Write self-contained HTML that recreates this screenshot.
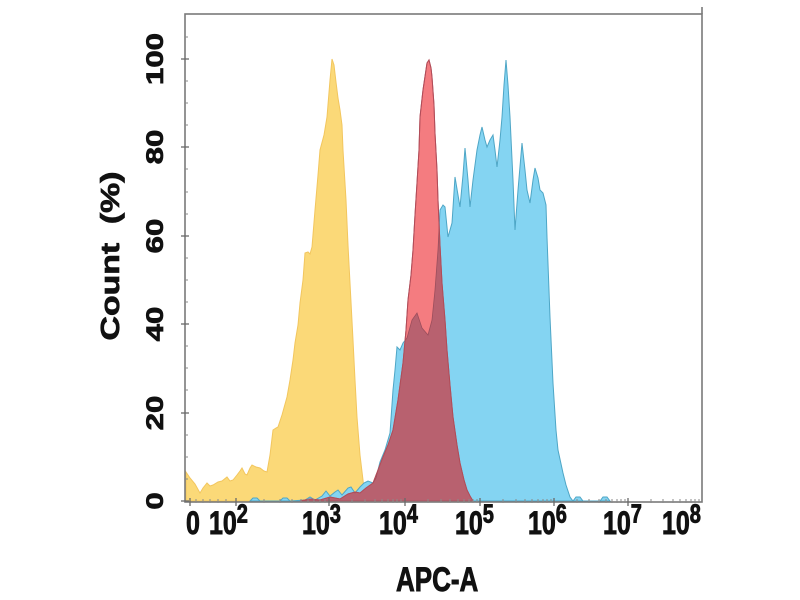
<!DOCTYPE html>
<html><head><meta charset="utf-8"><style>
html,body{margin:0;padding:0;background:#fff;width:800px;height:600px;overflow:hidden}
svg{display:block}
text{font-family:"Liberation Sans",Arial,sans-serif;font-weight:bold;fill:#111;stroke:#111;stroke-width:0.7}
</style></head><body>
<svg width="800" height="600" viewBox="0 0 800 600" xmlns="http://www.w3.org/2000/svg">
<defs>
<clipPath id="redclip"><path d="M300,501 L310,499 L320,500 L330,497 L340,499 L348,494 L355,492 L360,493 L366,488 L373,483 L378,470 L383,457 L388,445 L393,430 L398,400 L403,363 L406,330 L408,300 L411,275 L413,250 L415,215 L417,183 L419,150 L420,117 L423,90 L427,63 L429,60 L431,68 L432,77 L434,105 L435,133 L437,170 L438,200 L440,245 L442,283 L445,320 L447,350 L450,385 L453,417 L457,445 L460,463 L464,480 L467,490 L470,496 L473,501 Z"/></clipPath>
</defs>
<!-- yellow -->
<path d="M186,501 L186,472 L190,478 L195,484 L200,493 L203,488 L207,483 L210,486 L213,485 L218,482 L222,481 L227,477 L230,481 L233,480 L237,475 L240,471 L242,468 L245,474 L247,475 L250,468 L252,465 L256,467 L260,468 L264,471 L267,472 L270,455 L273,430 L276,428 L278,427 L282,415 L287,397 L290,380 L293,360 L295,343 L298,325 L300,303 L303,280 L305,253 L308,252 L310,254 L312,247 L315,210 L318,175 L320,150 L324,135 L327,117 L330,80 L332,59 L334,65 L336,82 L338,98 L340,110 L342,125 L343,150 L346,200 L348,245 L350,283 L353,340 L355,380 L357,417 L360,455 L363,480 L365,501 Z" fill="#fbd978" stroke="#f2c65e" stroke-width="1"/>
<!-- blue -->
<path d="M250,501 L253,498 L257,498 L260,501 L280,501 L283,498 L287,498 L290,501 L305,500 L310,497 L315,500 L322,496 L326,491 L330,496 L335,492 L338,490 L342,495 L348,488 L351,487 L355,493 L360,487 L364,483 L368,481 L373,483 L376,478 L380,462 L385,450 L390,433 L393,390 L395,370 L397,347 L400,350 L403,343 L407,338 L412,320 L417,313 L422,328 L428,335 L432,320 L435,290 L438,250 L440,210 L443,205 L445,207 L448,237 L452,223 L455,177 L458,195 L460,207 L463,175 L465,148 L468,180 L470,207 L473,180 L477,150 L480,135 L482,127 L485,140 L487,147 L490,140 L493,135 L495,150 L497,167 L500,140 L502,117 L504,85 L506,60 L508,85 L510,117 L513,180 L515,230 L518,190 L522,143 L525,170 L527,190 L530,203 L533,180 L535,168 L538,178 L540,190 L543,193 L546,205 L547,237 L550,317 L553,383 L556,430 L558,450 L563,473 L566,485 L570,497 L573,501 L576,497 L580,497 L583,501 L600,501 L603,497 L607,497 L610,501 Z" fill="#84d4f2" stroke="#4ea6c6" stroke-width="1"/>
<!-- red -->
<path d="M300,501 L310,499 L320,500 L330,497 L340,499 L348,494 L355,492 L360,493 L366,488 L373,483 L378,470 L383,457 L388,445 L393,430 L398,400 L403,363 L406,330 L408,300 L411,275 L413,250 L415,215 L417,183 L419,150 L420,117 L423,90 L427,63 L429,60 L431,68 L432,77 L434,105 L435,133 L437,170 L438,200 L440,245 L442,283 L445,320 L447,350 L450,385 L453,417 L457,445 L460,463 L464,480 L467,490 L470,496 L473,501 Z" fill="#f47c80" stroke="#c85a64" stroke-width="1"/>
<!-- overlap -->
<g clip-path="url(#redclip)">
<path d="M250,501 L253,498 L257,498 L260,501 L280,501 L283,498 L287,498 L290,501 L305,500 L310,497 L315,500 L322,496 L326,491 L330,496 L335,492 L338,490 L342,495 L348,488 L351,487 L355,493 L360,487 L364,483 L368,481 L373,483 L376,478 L380,462 L385,450 L390,433 L393,390 L395,370 L397,347 L400,350 L403,343 L407,338 L412,320 L417,313 L422,328 L428,335 L432,320 L435,290 L438,250 L440,210 L443,205 L445,207 L448,237 L452,223 L455,177 L458,195 L460,207 L463,175 L465,148 L468,180 L470,207 L473,180 L477,150 L480,135 L482,127 L485,140 L487,147 L490,140 L500,501 Z" fill="#b8616f" stroke="#9c4e5c" stroke-width="0.8"/>
</g>
<path d="M300,501 L310,499 L320,500 L330,497 L340,499 L348,494 L355,492 L360,493 L366,488 L373,483 L378,470 L383,457 L388,445 L393,430 L398,400 L403,363 L406,330 L408,300 L411,275 L413,250 L415,215 L417,183 L419,150 L420,117 L423,90 L427,63 L429,60 L431,68 L432,77 L434,105 L435,133 L437,170 L438,200 L440,245 L442,283 L445,320 L447,350 L450,385 L453,417 L457,445 L460,463 L464,480 L467,490 L470,496 L473,501" fill="none" stroke="#b04c58" stroke-width="1"/>

<!-- frame -->
<g stroke="#7a7a7a" stroke-width="1.6" fill="none">
<rect x="185" y="14" width="517" height="488"/>
<line x1="702" y1="7" x2="702" y2="14"/>
</g>
<!-- y ticks -->
<g stroke="#6a6a6a" stroke-width="1.3">
<line x1="181" y1="59" x2="189" y2="59"/>
<line x1="181" y1="147" x2="189" y2="147"/>
<line x1="181" y1="236" x2="189" y2="236"/>
<line x1="181" y1="324" x2="189" y2="324"/>
<line x1="181" y1="413" x2="189" y2="413"/>
<line x1="181" y1="501" x2="189" y2="501"/>
</g>
<g stroke="#8a8a8a" stroke-width="1">
<line x1="185" y1="37" x2="188" y2="37"/>
<line x1="185" y1="81" x2="188" y2="81"/>
<line x1="185" y1="103" x2="188" y2="103"/>
<line x1="185" y1="125" x2="188" y2="125"/>
<line x1="185" y1="169" x2="188" y2="169"/>
<line x1="185" y1="192" x2="188" y2="192"/>
<line x1="185" y1="214" x2="188" y2="214"/>
<line x1="185" y1="258" x2="188" y2="258"/>
<line x1="185" y1="280" x2="188" y2="280"/>
<line x1="185" y1="302" x2="188" y2="302"/>
<line x1="185" y1="346" x2="188" y2="346"/>
<line x1="185" y1="368" x2="188" y2="368"/>
<line x1="185" y1="390" x2="188" y2="390"/>
<line x1="185" y1="435" x2="188" y2="435"/>
<line x1="185" y1="457" x2="188" y2="457"/>
<line x1="185" y1="479" x2="188" y2="479"/>
</g>
<!-- x ticks -->
<g stroke="#6a6a6a" stroke-width="1.3">
<line x1="190" y1="498" x2="190" y2="506"/>
<line x1="236" y1="498" x2="236" y2="506"/>
<line x1="329" y1="498" x2="329" y2="506"/>
<line x1="405" y1="498" x2="405" y2="506"/>
<line x1="480" y1="498" x2="480" y2="506"/>
<line x1="554" y1="498" x2="554" y2="506"/>
<line x1="628" y1="498" x2="628" y2="506"/>
</g>
<g stroke="#8a8a8a" stroke-width="1">
<line x1="196" y1="499" x2="196" y2="503"/><line x1="203" y1="499" x2="203" y2="503"/><line x1="210" y1="499" x2="210" y2="503"/><line x1="218" y1="499" x2="218" y2="503"/><line x1="226" y1="499" x2="226" y2="503"/>
<line x1="264" y1="499" x2="264" y2="503"/><line x1="280" y1="499" x2="280" y2="503"/><line x1="292" y1="499" x2="292" y2="503"/><line x1="301" y1="499" x2="301" y2="503"/><line x1="308" y1="499" x2="308" y2="503"/><line x1="314" y1="499" x2="314" y2="503"/><line x1="320" y1="499" x2="320" y2="503"/><line x1="325" y1="499" x2="325" y2="503"/>
<line x1="352" y1="499" x2="352" y2="503"/><line x1="365" y1="499" x2="365" y2="503"/><line x1="375" y1="499" x2="375" y2="503"/><line x1="382" y1="499" x2="382" y2="503"/><line x1="388" y1="499" x2="388" y2="503"/><line x1="393" y1="499" x2="393" y2="503"/><line x1="397" y1="499" x2="397" y2="503"/><line x1="401" y1="499" x2="401" y2="503"/>
<line x1="503" y1="499" x2="503" y2="503"/><line x1="516" y1="499" x2="516" y2="503"/><line x1="525" y1="499" x2="525" y2="503"/><line x1="532" y1="499" x2="532" y2="503"/><line x1="538" y1="499" x2="538" y2="503"/><line x1="543" y1="499" x2="543" y2="503"/><line x1="547" y1="499" x2="547" y2="503"/><line x1="551" y1="499" x2="551" y2="503"/>
<line x1="577" y1="499" x2="577" y2="503"/><line x1="589" y1="499" x2="589" y2="503"/><line x1="599" y1="499" x2="599" y2="503"/><line x1="606" y1="499" x2="606" y2="503"/><line x1="612" y1="499" x2="612" y2="503"/><line x1="617" y1="499" x2="617" y2="503"/><line x1="621" y1="499" x2="621" y2="503"/><line x1="625" y1="499" x2="625" y2="503"/>
<line x1="651" y1="499" x2="651" y2="503"/><line x1="663" y1="499" x2="663" y2="503"/><line x1="673" y1="499" x2="673" y2="503"/><line x1="680" y1="499" x2="680" y2="503"/><line x1="686" y1="499" x2="686" y2="503"/><line x1="691" y1="499" x2="691" y2="503"/><line x1="695" y1="499" x2="695" y2="503"/><line x1="699" y1="499" x2="699" y2="503"/>
<line x1="428" y1="499" x2="428" y2="503"/><line x1="441" y1="499" x2="441" y2="503"/><line x1="450" y1="499" x2="450" y2="503"/><line x1="458" y1="499" x2="458" y2="503"/><line x1="464" y1="499" x2="464" y2="503"/><line x1="469" y1="499" x2="469" y2="503"/><line x1="473" y1="499" x2="473" y2="503"/><line x1="477" y1="499" x2="477" y2="503"/>
</g>

<!-- y tick labels -->
<g font-size="24" text-anchor="middle">
<text transform="translate(163,59) scale(1,1.3) rotate(-90)">100</text>
<text transform="translate(163,147) scale(1,1.3) rotate(-90)">80</text>
<text transform="translate(163,236) scale(1,1.3) rotate(-90)">60</text>
<text transform="translate(163,324) scale(1,1.3) rotate(-90)">40</text>
<text transform="translate(163,413) scale(1,1.3) rotate(-90)">20</text>
<text transform="translate(163,501) scale(1,1.3) rotate(-90)">0</text>
</g>
<!-- y title -->
<text font-size="26" text-anchor="middle" transform="translate(119,256) scale(1,1.3) rotate(-90)" xml:space="preserve">Count  (%)</text>

<!-- x tick labels -->
<g font-size="25">
<text transform="translate(186,534) scale(1,1.3)">0</text>
<text transform="translate(209,534) scale(1,1.3)">10<tspan font-size="20" dy="-9">2</tspan></text>
<text transform="translate(302,534) scale(1,1.3)">10<tspan font-size="20" dy="-9">3</tspan></text>
<text transform="translate(379,534) scale(1,1.3)">10<tspan font-size="20" dy="-9">4</tspan></text>
<text transform="translate(455,534) scale(1,1.3)">10<tspan font-size="20" dy="-9">5</tspan></text>
<text transform="translate(528,534) scale(1,1.3)">10<tspan font-size="20" dy="-9">6</tspan></text>
<text transform="translate(603,534) scale(1,1.3)">10<tspan font-size="20" dy="-9">7</tspan></text>
<text transform="translate(662,534) scale(1,1.3)">10<tspan font-size="20" dy="-9">8</tspan></text>
</g>
<!-- x title -->
<text font-size="26" transform="translate(396,591) scale(1,1.3)">APC-A</text>
</svg>
</body></html>
